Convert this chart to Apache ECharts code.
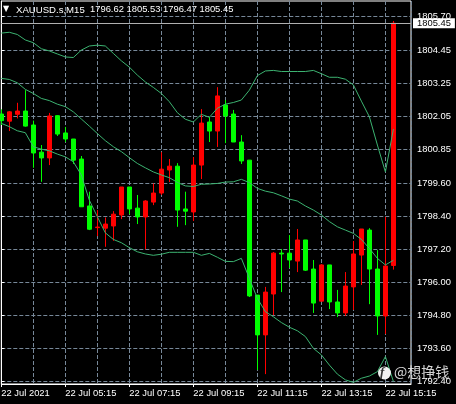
<!DOCTYPE html>
<html><head><meta charset="utf-8">
<style>html,body{margin:0;padding:0;background:#000}#c{width:456px;height:404px}</style>
<script src="https://cdn.jsdelivr.net/npm/echarts@6/dist/echarts.min.js"></script>
</head><body><div id="c"></div>
<script>
const FONT = '"Liberation Sans",sans-serif';
const symbolText = 'XAUUSD.s,M15';
const ohlcText = '1796.62 1805.53 1796.47 1805.45';
const priceTicks = [1805.70,1804.45,1803.25,1802.05,1800.85,1799.60,1798.40,1797.20,1796.00,1794.80,1793.60,1792.40];
const timeTicks = ['22 Jul 2021','22 Jul 05:15','22 Jul 07:15','22 Jul 09:15','22 Jul 11:15','22 Jul 13:15','22 Jul 15:15'];
const lastPrice = 1805.45;
// open, close, low, high (red = rising, green = falling)
const candles = [
[1802.14,1801.90,1801.74,1802.31],[1801.88,1802.22,1801.52,1802.25],[1802.13,1802.25,1801.98,1802.55],
[1802.25,1801.70,1801.68,1803.01],[1801.74,1800.72,1800.18,1801.90],[1800.75,1800.54,1799.67,1801.01],
[1800.54,1802.07,1800.28,1802.18],[1802.08,1801.41,1801.34,1802.10],[1801.45,1801.23,1801.12,1801.67],
[1801.23,1800.46,1800.32,1801.23],[1800.50,1798.76,1798.76,1800.61],[1798.79,1797.94,1797.91,1799.31],
[1798.00,1798.02,1797.69,1798.64],[1797.98,1798.13,1797.30,1798.37],[1798.06,1798.49,1797.52,1798.60],
[1798.46,1799.48,1798.31,1799.48],[1799.48,1798.68,1798.49,1799.48],[1798.71,1798.39,1798.13,1799.19],
[1798.39,1798.97,1797.21,1799.00],[1798.93,1799.26,1798.82,1799.61],[1799.26,1800.13,1799.19,1800.75],
[1800.10,1800.24,1799.66,1800.50],[1800.24,1798.64,1798.03,1800.35],[1798.68,1798.60,1798.09,1799.31],
[1798.57,1800.28,1798.24,1800.57],[1800.28,1801.81,1799.77,1802.32],[1801.85,1801.52,1801.12,1802.03],
[1801.52,1802.80,1800.94,1803.12],[1802.47,1802.07,1801.08,1802.65],[1802.14,1801.12,1801.12,1802.29],
[1801.12,1800.43,1800.32,1801.37],[1800.46,1795.51,1795.47,1800.46],[1795.54,1794.09,1792.81,1795.54],
[1794.09,1795.65,1792.66,1795.84],[1795.58,1797.07,1794.81,1797.11],[1797.07,1797.04,1795.65,1797.22],
[1797.07,1796.82,1796.53,1797.73],[1796.78,1797.55,1796.38,1797.95],[1797.55,1796.45,1796.42,1797.55],
[1796.49,1795.25,1794.89,1796.82],[1795.32,1796.64,1795.32,1796.67],[1796.64,1795.29,1795.03,1796.64],
[1795.29,1794.89,1794.74,1795.73],[1794.89,1795.87,1794.78,1796.38],[1795.84,1797.04,1795.00,1797.51],
[1797.00,1797.95,1795.91,1797.95],[1797.91,1796.49,1795.21,1797.98],[1796.49,1794.78,1794.09,1797.18],
[1794.78,1796.60,1794.12,1798.39],[1796.62,1805.45,1796.47,1805.53]];
const upperBand = [1805.09,1805.12,1805.04,1804.84,1804.74,1804.52,1804.44,1804.33,1804.22,1804.20,1804.47,1804.62,1804.65,1804.62,1804.35,1804.08,1803.85,1803.56,1803.31,1803.11,1802.89,1802.59,1802.19,1801.95,1801.85,1802.13,1802.02,1802.35,1802.50,1802.56,1802.65,1803.01,1803.54,1803.71,1803.73,1803.69,1803.69,1803.69,1803.69,1803.73,1803.61,1803.48,1803.48,1803.41,1803.20,1802.61,1802.04,1801.01,1800.03,1801.59];
const middleBand = [1803.44,1803.40,1803.28,1803.04,1802.89,1802.71,1802.63,1802.50,1802.41,1802.22,1801.96,1801.70,1801.43,1801.17,1800.95,1800.77,1800.55,1800.34,1800.18,1800.03,1799.92,1799.82,1799.65,1799.52,1799.50,1799.58,1799.59,1799.61,1799.66,1799.67,1799.76,1799.64,1799.43,1799.33,1799.27,1799.16,1799.04,1798.97,1798.79,1798.64,1798.46,1798.22,1798.03,1797.91,1797.79,1797.57,1797.24,1796.88,1796.64,1796.81];
const lowerBand = [1801.80,1801.68,1801.53,1801.46,1800.95,1800.86,1800.80,1800.68,1800.58,1800.40,1799.92,1799.00,1798.40,1797.81,1797.57,1797.45,1797.27,1797.12,1797.04,1796.99,1797.03,1797.10,1797.10,1797.10,1797.10,1796.99,1797.06,1796.92,1796.77,1796.76,1796.88,1796.15,1795.42,1794.94,1794.75,1794.54,1794.37,1794.24,1794.03,1793.60,1793.36,1792.99,1792.66,1792.45,1792.36,1792.51,1792.59,1792.75,1793.30,1792.39];

const BAND = '#3CB371', UP = '#FF0000', DOWN = '#00FF00', GRID = '#778899';
const XMAX = 51.2;
const timeIdx = timeTicks.map((_, k) => k * 8);
const withIdx = a => a.map((v, i) => [i, v]);
const bandSeries = (name, a) => ({name, type:'line', data:withIdx(a), xAxisIndex:0, yAxisIndex:0, showSymbol:false,
  symbol:'none', lineStyle:{color:BAND, width:1}, z:5, silent:true});
const dashed = {show:true, lineStyle:{color:GRID, type:[4,2], width:1}};

const chart = echarts.init(document.getElementById('c'), null, {renderer:'canvas'});
chart.setOption({
  animation:false, backgroundColor:'#000',
  title:[
    {text:'\u25BC', left:3, top:5, padding:0, textStyle:{color:'#fff', fontSize:8, fontWeight:'normal', fontFamily:'"DejaVu Sans"'}},
    {text:symbolText, left:16, top:5, padding:0, textStyle:{color:'#fff', fontSize:9.6, fontWeight:'normal', fontFamily:FONT}},
    {text:ohlcText, left:90, top:5, padding:0, textStyle:{color:'#fff', fontSize:9.4, fontWeight:'normal', fontFamily:FONT}}
  ],
  grid:{left:1.3, top:1, width:409.7, height:383, show:true, borderColor:'#fff', borderWidth:1, backgroundColor:'#000', outerBoundsMode:'none'},
  xAxis:[
    {type:'value', min:0, max:XMAX, position:'bottom', splitLine:{show:false},
     axisLine:{lineStyle:{color:'#fff'}},
     axisTick:{show:true, length:3, inside:false, customValues:timeIdx, lineStyle:{color:'#fff'}},
     axisLabel:{customValues:timeIdx, color:'#fff', fontSize:9.4, fontFamily:FONT, align:'left', margin:5,
       showMinLabel:true, formatter:v => timeTicks[Math.round(v/8)] || ''}},
    {type:'value', min:0, max:XMAX, interval:4, position:'bottom', axisLine:{show:false}, axisTick:{show:false},
     axisLabel:{show:false}, splitLine:dashed}
  ],
  yAxis:{type:'value', min:1792.30, max:1806.26, position:'right', scale:true,
    axisLine:{show:true, lineStyle:{color:'#fff'}},
    axisTick:{show:true, length:3, customValues:priceTicks, lineStyle:{color:'#fff'}},
    axisLabel:{customValues:priceTicks, color:'#fff', fontSize:9.4, fontFamily:FONT, margin:6, formatter:v => v.toFixed(2)},
    splitLine:dashed},
  series:[
    {name:'XAUUSD', type:'candlestick', xAxisIndex:0, yAxisIndex:0,
     data:candles.map((c, i) => [i, c[0], c[1], c[2], c[3]]),
     encode:{x:0, y:[1,2,3,4]}, barWidth:5, z:3,
     itemStyle:{color:UP, color0:DOWN, borderColor:UP, borderColor0:DOWN, borderWidth:1},
     markLine:{silent:true, symbol:'none', animation:false, z:8,
       lineStyle:{color:'#B0B0B0', type:'solid', width:1},
       label:{show:true, position:'end', distance:2, formatter:p => p.value.toFixed(2), color:'#000', backgroundColor:'#fff',
         padding:[1,4,0,4], fontSize:9.4, fontFamily:FONT},
       data:[{yAxis:lastPrice}]}},
    bandSeries('Upper', upperBand), bandSeries('Middle', middleBand), bandSeries('Lower', lowerBand)
  ],
  graphic:[
    {type:'circle', z:100, shape:{cx:384.5, cy:373, r:6.5}, style:{fill:'#f2f2f2'}},
    {type:'text', z:101, style:{x:380, y:366, text:'f', fill:'#333', font:'italic bold 13px "Liberation Serif"'}},
    {type:'text', z:100, style:{x:394, y:365, text:'@想挣钱', fill:'rgba(235,235,235,0.9)',
      font:'14px "Noto Sans CJK SC"', shadowBlur:2, shadowColor:'#000'}}
  ]
});
</script></body></html>
